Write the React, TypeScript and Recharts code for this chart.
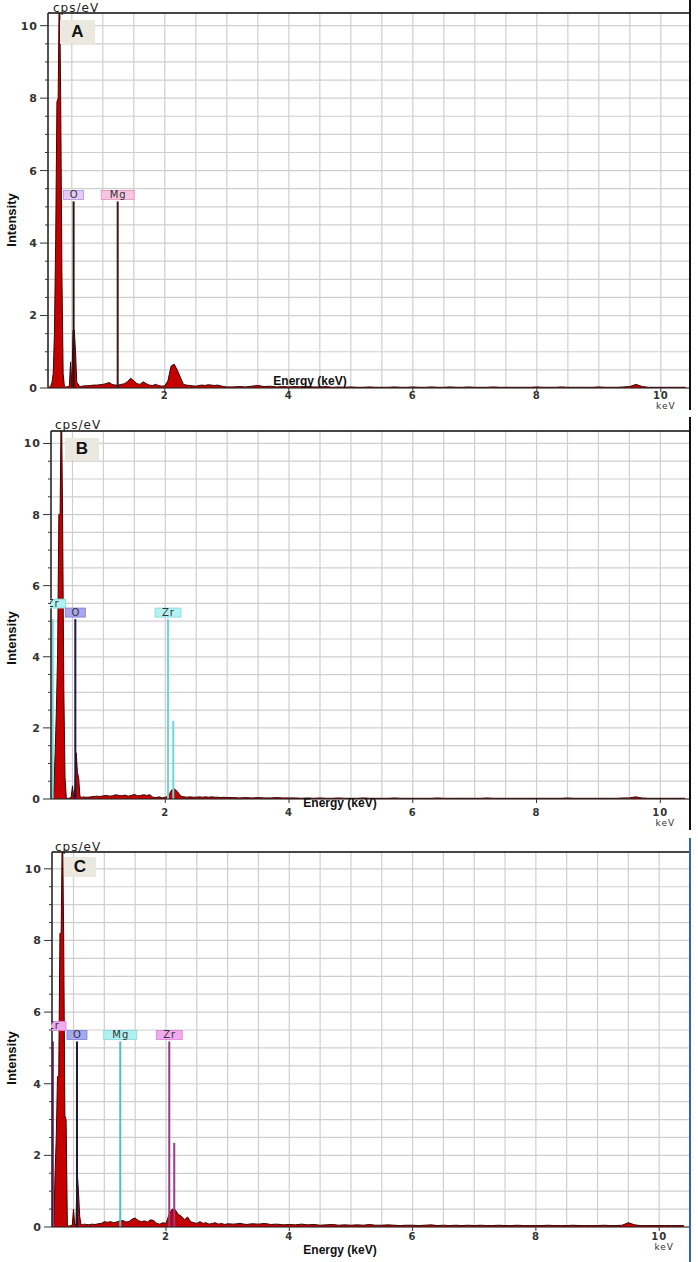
import React from 'react';
import { ComposedChart, Area, XAxis, YAxis, CartesianGrid, ReferenceLine, ReferenceDot } from 'recharts';

// ---------- data: energy grid (keV) ----------
const energyFine = [0.12, 0.14, 0.16, 0.18, 0.2, 0.22, 0.24, 0.26, 0.28, 0.3, 0.32, 0.34, 0.36, 0.38, 0.4, 0.42, 0.44, 0.46, 0.48, 0.5, 0.52, 0.54, 0.56, 0.58, 0.6, 0.62, 0.64, 0.66, 0.68, 0.7];
const energyMid = [0.75, 0.8, 0.85, 0.9, 0.95, 1.0, 1.05, 1.1, 1.15, 1.2, 1.25, 1.3, 1.35, 1.4, 1.45, 1.5, 1.55, 1.6, 1.65, 1.7, 1.75, 1.8, 1.85, 1.9, 1.95, 2.0, 2.05, 2.1, 2.15, 2.2, 2.25, 2.3, 2.35, 2.4, 2.45, 2.5, 2.55, 2.6, 2.65, 2.7, 2.75, 2.8, 2.85, 2.9, 2.95, 3.0];
const energyTail = [3.1, 3.2, 3.3, 3.4, 3.5, 3.6, 3.7, 3.8, 3.9, 4.0, 4.1, 4.2, 4.3, 4.4, 4.5, 4.6, 4.7, 4.8, 4.9, 5.0, 5.1, 5.2, 5.3, 5.4, 5.5, 5.6, 5.7, 5.8, 5.9, 6.0, 6.1, 6.2, 6.3, 6.4, 6.5, 6.6, 6.7, 6.8, 6.9, 7.0, 7.1, 7.2, 7.3, 7.4, 7.5, 7.6, 7.7, 7.8, 7.9, 8.0, 8.1, 8.2, 8.3, 8.4, 8.5, 8.6, 8.7, 8.8, 8.9, 9.0, 9.1, 9.2, 9.3, 9.4, 9.5, 9.6, 9.7, 9.8, 9.9, 10.0, 10.1, 10.2, 10.3, 10.4];

// ---------- data: intensities (cps/eV) ----------
const countsAFine = [0.02, 0.03, 0.05, 0.15, 0.4, 1.5, 4.1, 7.9, 8.0, 11.5, 8.1, 3.2, 0.4, 0.05, 0.03, 0.03, 0.04, 0.05, 0.72, 0.05, 1.6, 1.6, 1.0, 0.15, 0.12, 0.05, 0.04, 0.05, 0.05, 0.06];
const countsAMid = [0.06, 0.07, 0.08, 0.08, 0.09, 0.1, 0.12, 0.15, 0.1, 0.08, 0.08, 0.1, 0.12, 0.18, 0.27, 0.2, 0.12, 0.1, 0.17, 0.12, 0.08, 0.07, 0.1, 0.07, 0.05, 0.06, 0.2, 0.6, 0.66, 0.5, 0.3, 0.1, 0.08, 0.07, 0.06, 0.05, 0.07, 0.08, 0.07, 0.09, 0.08, 0.07, 0.08, 0.06, 0.04, 0.03];
const countsATail = [0.03, 0.04, 0.03, 0.05, 0.07, 0.04, 0.05, 0.03, 0.04, 0.03, 0.04, 0.03, 0.04, 0.03, 0.03, 0.04, 0.02, 0.03, 0.02, 0.03, 0.02, 0.02, 0.03, 0.02, 0.02, 0.02, 0.03, 0.02, 0.02, 0.03, 0.02, 0.02, 0.03, 0.02, 0.02, 0.03, 0.02, 0.02, 0.03, 0.02, 0.02, 0.02, 0.03, 0.02, 0.02, 0.02, 0.02, 0.02, 0.02, 0.03, 0.02, 0.02, 0.02, 0.03, 0.02, 0.02, 0.02, 0.02, 0.02, 0.03, 0.02, 0.02, 0.02, 0.03, 0.04, 0.1, 0.04, 0.02, 0.02, 0.02, 0.02, 0.02, 0.02, 0.02];

const countsBFine = [0, 0, 0.02, 0.05, 0.3, 1.3, 2.5, 4.1, 8.0, 8.0, 11.5, 8.0, 3.1, 0.6, 0.03, 0.02, 0.02, 0.03, 0.05, 0.37, 0.05, 0.3, 1.3, 0.75, 0.6, 0.08, 0.05, 0.05, 0.06, 0.05];
const countsBMid = [0.05, 0.06, 0.07, 0.08, 0.07, 0.09, 0.1, 0.08, 0.09, 0.12, 0.1, 0.09, 0.11, 0.08, 0.1, 0.13, 0.09, 0.1, 0.12, 0.1, 0.12, 0.05, 0.04, 0.06, 0.03, 0.05, 0.08, 0.25, 0.28, 0.2, 0.08, 0.06, 0.05, 0.06, 0.05, 0.05, 0.06, 0.05, 0.06, 0.05, 0.06, 0.05, 0.05, 0.04, 0.05, 0.04];
const countsBTail = [0.04, 0.03, 0.04, 0.03, 0.04, 0.03, 0.03, 0.04, 0.03, 0.03, 0.03, 0.02, 0.03, 0.02, 0.03, 0.02, 0.02, 0.03, 0.02, 0.02, 0.02, 0.03, 0.02, 0.02, 0.02, 0.02, 0.03, 0.02, 0.02, 0.02, 0.02, 0.02, 0.02, 0.03, 0.02, 0.02, 0.02, 0.02, 0.02, 0.02, 0.02, 0.03, 0.02, 0.02, 0.02, 0.02, 0.02, 0.02, 0.02, 0.02, 0.02, 0.02, 0.02, 0.02, 0.03, 0.02, 0.02, 0.02, 0.02, 0.02, 0.02, 0.02, 0.02, 0.03, 0.03, 0.06, 0.03, 0.02, 0.02, 0.02, 0.02, 0.02, 0.02, 0.02];

const countsCFine = [0, 0, 0.02, 0.1, 1.45, 2.5, 4.2, 4.2, 8.2, 8.2, 11.5, 8.2, 3.1, 3.0, 0.05, 0.03, 0.03, 0.04, 0.05, 0.5, 0.05, 0.1, 1.55, 1.0, 0.3, 0.08, 0.06, 0.07, 0.08, 0.07];
const countsCMid = [0.06, 0.08, 0.07, 0.09, 0.1, 0.15, 0.13, 0.15, 0.12, 0.14, 0.17, 0.18, 0.14, 0.15, 0.22, 0.25, 0.18, 0.15, 0.17, 0.14, 0.2, 0.18, 0.1, 0.08, 0.12, 0.1, 0.35, 0.5, 0.48, 0.35, 0.3, 0.2, 0.28, 0.15, 0.12, 0.1, 0.15, 0.1, 0.12, 0.08, 0.1, 0.12, 0.08, 0.1, 0.07, 0.09];
const countsCTail = [0.08, 0.1, 0.07, 0.09, 0.08, 0.1, 0.07, 0.08, 0.06, 0.07, 0.06, 0.08, 0.06, 0.07, 0.05, 0.06, 0.07, 0.05, 0.06, 0.05, 0.06, 0.05, 0.07, 0.05, 0.05, 0.06, 0.05, 0.04, 0.05, 0.05, 0.04, 0.05, 0.06, 0.04, 0.05, 0.04, 0.05, 0.04, 0.05, 0.04, 0.05, 0.04, 0.04, 0.05, 0.04, 0.04, 0.05, 0.04, 0.04, 0.04, 0.04, 0.05, 0.04, 0.04, 0.04, 0.05, 0.04, 0.04, 0.04, 0.04, 0.05, 0.04, 0.04, 0.05, 0.12, 0.06, 0.04, 0.04, 0.04, 0.04, 0.04, 0.04, 0.04, 0.04];

// ---------- data: element marker lines ----------
const markerEnergyA = [0.529, 1.24];
const markerHeightA = [5.15, 5.15];
const markerLabelA = ['O', 'Mg'];

const markerEnergyB = [0.18, 0.546, 2.044, 2.129];
const markerHeightB = [5.06, 5.06, 5.06, 2.2];
const markerLabelB = ['Zr', 'O', 'Zr', ''];

const markerEnergyC = [0.167, 0.556, 1.258, 2.053, 2.134];
const markerHeightC = [5.18, 5.18, 5.18, 5.18, 2.35];
const markerLabelC = ['Zr', 'O', 'Mg', 'Zr', ''];

// ---------- data: ticks ----------
const yTicks = [0, 0.5, 1, 1.5, 2, 2.5, 3, 3.5, 4, 4.5, 5, 5.5, 6, 6.5, 7, 7.5, 8, 8.5, 9, 9.5, 10];
const yTickLabels = [0, 2, 4, 6, 8, 10];
const xTicks = [0.5, 1, 1.5, 2, 2.5, 3, 3.5, 4, 4.5, 5, 5.5, 6, 6.5, 7, 7.5, 8, 8.5, 9, 9.5, 10];
const xTickLabels = [2, 4, 6, 8, 10];

// ---------- styles ----------
type MStyle = { line: string; fill: string; border: string; raise: number };
const stO_A: MStyle = { line: '#2a1414', fill: '#e3cdf6', border: '#b48ede', raise: 0 };
const stMg_A: MStyle = { line: '#3b1a22', fill: '#f6c5df', border: '#e090c0', raise: 0 };
const stZr_B: MStyle = { line: '#6ed6da', fill: '#b4f1f1', border: '#7fd9dc', raise: 0 };
const stZrLow_B: MStyle = { ...stZr_B, raise: 9 };
const stO_B: MStyle = { line: '#1d1840', fill: '#aaa6ef', border: '#7c77d6', raise: 0 };
const stZr_C: MStyle = { line: '#983b88', fill: '#f0aaee', border: '#d77fd3', raise: 0 };
const stZrLow_C: MStyle = { ...stZr_C, raise: 9 };
const stO_C: MStyle = { line: '#1a1838', fill: '#a5a9ef', border: '#7c7fd8', raise: 0 };
const stMg_C: MStyle = { line: '#4dc3c3', fill: '#aff1f1', border: '#80dada', raise: 0 };

const boxWidth: Record<string, number> = { O: 20, Mg: 33, Zr: 26 };

const tickFont = 'DejaVu Sans, Verdana, sans-serif';

function buildSpectrum(fine: number[], mid: number[], tail: number[]) {
  const es = [...energyFine, ...energyMid, ...energyTail];
  const vs = [...fine, ...mid, ...tail];
  return es.map((e, k) => ({ e, i: vs[k] }));
}

const dataA = buildSpectrum(countsAFine, countsAMid, countsATail);
const dataB = buildSpectrum(countsBFine, countsBMid, countsBTail);
const dataC = buildSpectrum(countsCFine, countsCMid, countsCTail);

const YTick = (props: any) => {
  const { x, y, payload } = props;
  const v = payload.value;
  const major = yTickLabels.includes(v);
  return (
    <g>
      <line x1={x - (major ? 8 : 3)} x2={x} y1={y} y2={y} stroke="#333" strokeWidth={1} />
      {major && (
        <text x={x - 10} y={y} dy="0.36em" textAnchor="end" fontFamily={tickFont} fontWeight="bold" fontSize={11} letterSpacing={1} fill="#333">
          {v}
        </text>
      )}
    </g>
  );
};

const makeXTick = (labelDy: number, kevDy: number) => (props: any) => {
  const { x, y, payload } = props;
  const v = payload.value;
  if (!xTickLabels.includes(v)) return <g />;
  return (
    <g>
      <line x1={x} x2={x} y1={y} y2={y + 4} stroke="#333" strokeWidth={1} />
      <text x={x} y={y + labelDy} textAnchor="middle" fontFamily={tickFont} fontWeight="bold" fontSize={10} letterSpacing={1} fill="#333">
        {v}
      </text>
      {v === 10 && (
        <text x={x + 5} y={y + labelDy + kevDy} textAnchor="middle" fontFamily={tickFont} fontSize={9} letterSpacing={1} fill="#333">
          keV
        </text>
      )}
    </g>
  );
};

const makeBox = (label: string, st: MStyle, clipLeft: number, id: string) => (props: any) => {
  const { cx, cy } = props;
  if (!label) return <g />;
  const w = boxWidth[label] || 24;
  const h = 9;
  const yb = cy - 2 - st.raise;
  return (
    <g>
      <defs>
        <clipPath id={id}>
          <rect x={clipLeft} y={yb - h - 2} width={200} height={h + 4} />
        </clipPath>
      </defs>
      <g clipPath={`url(#${id})`}>
        <rect x={cx - w / 2} y={yb - h} width={w} height={h} fill={st.fill} stroke={st.border} strokeWidth={0.8} />
        <text x={cx + 0.5} y={yb - 1.2} textAnchor="middle" fontFamily={tickFont} fontSize={10} letterSpacing={1} fill="#333">
          {label}
        </text>
      </g>
    </g>
  );
};

type Cfg = {
  id: string;
  height: number;
  marginTop: number;
  yAxisWidth: number;
  xAxisHeight: number;
  xDomain: [number, number];
  yMax: number;
  labelDy: number;
  kevDy: number;
};

function SpectrumPanel(p: {
  cfg: Cfg;
  data: { e: number; i: number }[];
  mE: number[];
  mH: number[];
  mL: string[];
  mS: MStyle[];
}) {
  const { cfg, data, mE, mH, mL, mS } = p;
  return (
    <ComposedChart
      width={698}
      height={cfg.height}
      data={data}
      margin={{ top: cfg.marginTop, right: 8, bottom: 0, left: 0 }}
    >
      <CartesianGrid stroke="#cfcfcf" strokeWidth={1.2} />
      <XAxis
        type="number"
        dataKey="e"
        domain={cfg.xDomain}
        ticks={xTicks}
        interval={0}
        allowDataOverflow
        height={cfg.xAxisHeight}
        tickSize={0}
        tickMargin={0}
        tickLine={false}
        tick={makeXTick(cfg.labelDy, cfg.kevDy)}
        axisLine={{ stroke: '#222', strokeWidth: 1.2 }}
      />
      <YAxis
        type="number"
        domain={[0, cfg.yMax]}
        ticks={yTicks}
        interval={0}
        allowDataOverflow
        width={cfg.yAxisWidth}
        tickSize={0}
        tickMargin={0}
        tickLine={false}
        tick={YTick}
        axisLine={{ stroke: '#222', strokeWidth: 1.5 }}
      />
      <ReferenceLine y={cfg.yMax} stroke="#111" strokeWidth={1.5} />
      <Area
        type="linear"
        dataKey="i"
        stroke="#3a0505"
        strokeWidth={1}
        fill="#c40000"
        fillOpacity={1}
        isAnimationActive={false}
        dot={false}
        activeDot={false}
      />
      {mE.map((e, k) => (
        <ReferenceLine
          key={'l' + k}
          segment={[{ x: e, y: 0 }, { x: e, y: mH[k] }]}
          stroke={mS[k].line}
          strokeWidth={2}
        />
      ))}
      {mE.map((e, k) => (
        <ReferenceDot
          key={'d' + k}
          x={e}
          y={mH[k]}
          r={0}
          ifOverflow="visible"
          shape={makeBox(mL[k], mS[k], cfg.yAxisWidth - 1, `clip-${cfg.id}-${k}`)}
        />
      ))}
    </ComposedChart>
  );
}

const cfgA: Cfg = { id: 'a', height: 415, marginTop: 13, yAxisWidth: 48, xAxisHeight: 27, xDomain: [0.116, 10.47], yMax: 10.35, labelDy: 11, kevDy: 10 };
const cfgB: Cfg = { id: 'b', height: 418, marginTop: 16, yAxisWidth: 51, xAxisHeight: 34, xDomain: [0.153, 10.48], yMax: 10.35, labelDy: 17, kevDy: 10 };
const cfgC: Cfg = { id: 'c', height: 422, marginTop: 17, yAxisWidth: 52, xAxisHeight: 30, xDomain: [0.151, 10.5], yMax: 10.47, labelDy: 13, kevDy: 10 };

const abs = (left: number, top: number, extra: React.CSSProperties = {}): React.CSSProperties => ({
  position: 'absolute',
  left,
  top,
  ...extra,
});

function Annotations(p: { letter: string; box: [number, number, number, number]; cps: [number, number]; inten: number; energy: [number, number] }) {
  const { letter, box, cps, inten, energy } = p;
  return (
    <>
      <div style={abs(box[0], box[1], { width: box[2], height: box[3], background: '#ebe8df', display: 'flex', alignItems: 'center', justifyContent: 'center', font: 'bold 17px "Liberation Sans", Arial, sans-serif', color: '#111' })}>
        {letter}
      </div>
      <div style={abs(cps[0], cps[1], { font: '12px "DejaVu Sans", sans-serif', letterSpacing: 1, lineHeight: '12px', color: '#222', whiteSpace: 'nowrap' })}>cps/eV</div>
      <div style={abs(12, inten, { transform: 'translate(-50%, -50%) rotate(-90deg)', font: 'bold 13px "Liberation Sans", Arial, sans-serif', lineHeight: '14px', color: '#111', whiteSpace: 'nowrap' })}>Intensity</div>
      <div style={abs(energy[0], energy[1], { transform: 'translate(-50%, -50%)', font: 'bold 12px "Liberation Sans", Arial, sans-serif', lineHeight: '12px', color: '#111', whiteSpace: 'nowrap' })}>Energy (keV)</div>
    </>
  );
}

export default function App() {
  return (
    <div style={{ position: 'absolute', left: 0, top: 0, width: 698, height: 1262, background: '#fff', overflow: 'hidden' }}>
      <div style={abs(0, 0)}>
        <SpectrumPanel cfg={cfgA} data={dataA} mE={markerEnergyA} mH={markerHeightA} mL={markerLabelA} mS={[stO_A, stMg_A]} />
      </div>
      <div style={abs(0, 415)}>
        <SpectrumPanel cfg={cfgB} data={dataB} mE={markerEnergyB} mH={markerHeightB} mL={markerLabelB} mS={[stZrLow_B, stO_B, stZr_B, stZr_B]} />
      </div>
      <div style={abs(0, 835)}>
        <SpectrumPanel cfg={cfgC} data={dataC} mE={markerEnergyC} mH={markerHeightC} mL={markerLabelC} mS={[stZrLow_C, stO_C, stMg_C, stZr_C, stZr_C]} />
      </div>

      <Annotations letter="A" box={[60, 20, 35, 24]} cps={[53, 2]} inten={220} energy={[310, 381]} />
      <Annotations letter="B" box={[65, 438, 34, 22]} cps={[55, 419]} inten={638} energy={[340, 803]} />
      <Annotations letter="C" box={[64, 857, 32, 20]} cps={[55, 841]} inten={1058} energy={[340, 1250]} />

      <div style={abs(689, 0, { width: 2, height: 410, background: '#111' })} />
      <div style={abs(689, 417, { width: 2, height: 413, background: '#111' })} />
      <div style={abs(689, 838, { width: 2, height: 424, background: '#3464b4' })} />
    </div>
  );
}
